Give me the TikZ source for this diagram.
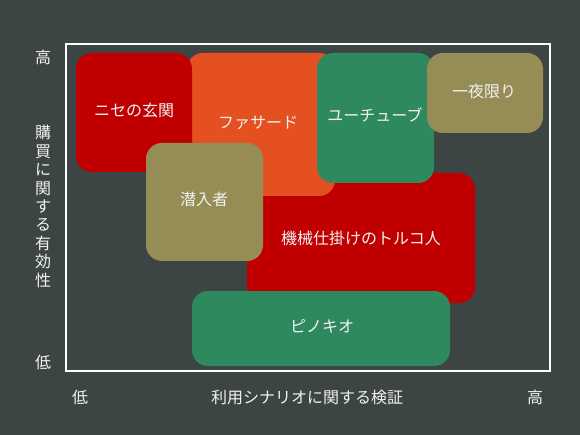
\documentclass[tikz,border=0pt]{standalone}
\usepackage{fontspec}
\setmainfont{Noto Sans CJK JP}
\definecolor{bgc}{HTML}{3C4543}
\definecolor{cred}{HTML}{C00000}
\definecolor{corange}{HTML}{E55020}
\definecolor{cgreen}{HTML}{2E8A5E}
\definecolor{ckhaki}{HTML}{968C55}
\definecolor{txtc}{HTML}{F2F2F2}
\begin{document}
\begin{tikzpicture}[x=1pt,y=-1pt,
  box/.style={rounded corners=16pt, inner sep=0pt, text=txtc, font=\fontsize{16}{19}\selectfont},
  axislbl/.style={text=txtc, inner sep=0pt, font=\fontsize{16}{18.4}\selectfont, align=center}]
\fill[bgc] (0,0) rectangle (580,435);
\useasboundingbox (0,0) rectangle (580,435);
\draw[white, line width=2pt] (66,44) rectangle (550,371);
% boxes in stacking order
\node[box, fill=cred, minimum width=228pt, minimum height=130pt] (turk) at (361,238) {機械仕掛けのトルコ人};
\node[box, fill=corange, minimum width=148pt, minimum height=143pt] (facade) at (261,124.5) {};
\node[text=txtc, font=\fontsize{16}{19}\selectfont, inner sep=0pt] (facadet) at (258,123) {ファサード};
\node[box, fill=cred, minimum width=116pt, minimum height=119pt] (nise) at (134,112.5) {};
\node[text=txtc, font=\fontsize{16}{19}\selectfont, inner sep=0pt] (niset) at (134,110) {ニセの玄関};
\node[box, fill=cgreen, minimum width=117pt, minimum height=130pt] (yt) at (375.5,118) {};
\node[text=txtc, font=\fontsize{16}{19}\selectfont, inner sep=0pt] (ytt) at (375,115) {ユーチューブ};
\node[box, fill=ckhaki, minimum width=116pt, minimum height=80pt] (one) at (485,93) {};
\node[text=txtc, font=\fontsize{16}{19}\selectfont, inner sep=0pt] (onet) at (484,91) {一夜限り};
\node[box, fill=ckhaki, minimum width=117pt, minimum height=118pt] (sen) at (204.5,202) {};
\node[text=txtc, font=\fontsize{16}{19}\selectfont, inner sep=0pt] (sent) at (204,199) {潜入者};
\node[box, fill=cgreen, minimum width=258pt, minimum height=75pt] (pin) at (321,328.5) {};
\node[text=txtc, font=\fontsize{16}{19}\selectfont, inner sep=0pt] (pint) at (322,326) {ピノキオ};
% axes labels
\node[axislbl] (yhigh) at (43,57) {高};
\node[axislbl] (ylow) at (43,362) {低};
\node[axislbl] (ylab) at (43,206.5) {購\\買\\に\\関\\す\\る\\有\\効\\性};
\node[axislbl] (xlow) at (80,397) {低};
\node[axislbl] (xlab) at (307,397) {利用シナリオに関する検証};
\node[axislbl] (xhigh) at (535,397) {高};
\end{tikzpicture}
\end{document}
